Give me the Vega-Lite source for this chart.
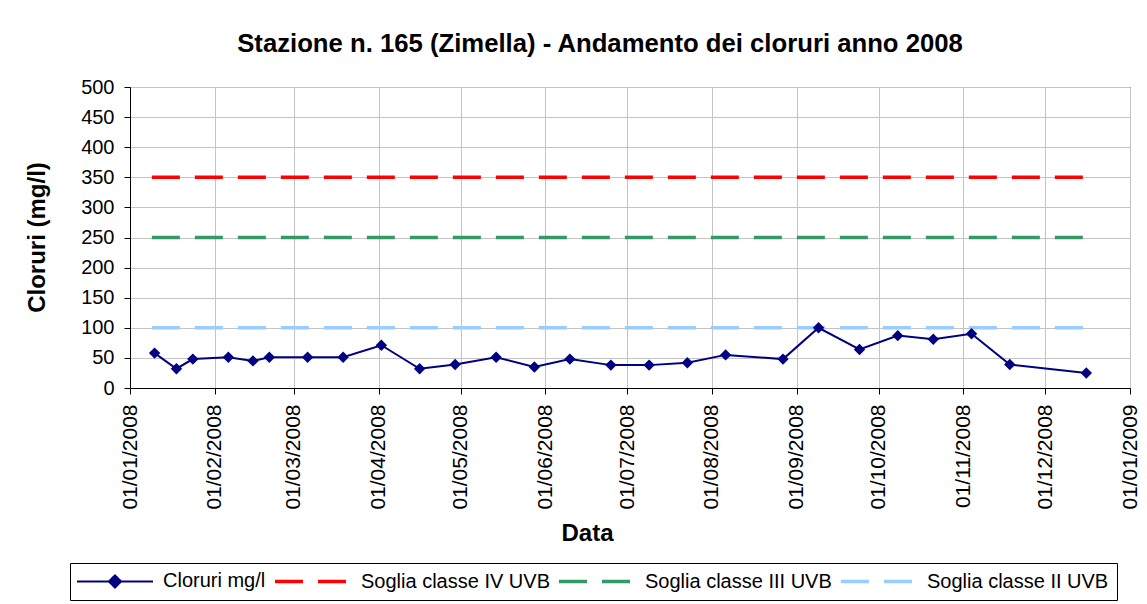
{
  "$schema": "https://vega.github.io/schema/vega-lite/v6.json",
  "width": 1000,
  "height": 301,
  "autosize": {"type": "none"},
  "padding": {"left": 130, "top": 87, "right": 17, "bottom": 216},
  "background": "white",
  "config": {
    "font": "Liberation Sans",
    "view": {"stroke": "black", "strokeWidth": 1}
  },
  "title": {
    "text": "Stazione n. 165 (Zimella) - Andamento dei cloruri anno 2008",
    "font": "Liberation Sans",
    "fontSize": 25.7,
    "fontWeight": "bold",
    "color": "black",
    "anchor": "middle",
    "dx": -30,
    "offset": -1,
    "baseline": "alphabetic"
  },
  "datasets": {
    "cloruri": [
      {"data": "2008-01-10", "valore": 58, "serie": "Cloruri mg/l"},
      {"data": "2008-01-18", "valore": 32, "serie": "Cloruri mg/l"},
      {"data": "2008-01-24", "valore": 48, "serie": "Cloruri mg/l"},
      {"data": "2008-02-06", "valore": 51, "serie": "Cloruri mg/l"},
      {"data": "2008-02-15", "valore": 45, "serie": "Cloruri mg/l"},
      {"data": "2008-02-21", "valore": 51, "serie": "Cloruri mg/l"},
      {"data": "2008-03-06", "valore": 51, "serie": "Cloruri mg/l"},
      {"data": "2008-03-19", "valore": 51, "serie": "Cloruri mg/l"},
      {"data": "2008-04-02", "valore": 71, "serie": "Cloruri mg/l"},
      {"data": "2008-04-16", "valore": 32, "serie": "Cloruri mg/l"},
      {"data": "2008-04-29", "valore": 39, "serie": "Cloruri mg/l"},
      {"data": "2008-05-14", "valore": 51, "serie": "Cloruri mg/l"},
      {"data": "2008-05-28", "valore": 35, "serie": "Cloruri mg/l"},
      {"data": "2008-06-10", "valore": 48, "serie": "Cloruri mg/l"},
      {"data": "2008-06-25", "valore": 38, "serie": "Cloruri mg/l"},
      {"data": "2008-07-09", "valore": 38, "serie": "Cloruri mg/l"},
      {"data": "2008-07-23", "valore": 42, "serie": "Cloruri mg/l"},
      {"data": "2008-08-06", "valore": 55, "serie": "Cloruri mg/l"},
      {"data": "2008-08-27", "valore": 48, "serie": "Cloruri mg/l"},
      {"data": "2008-09-09", "valore": 100, "serie": "Cloruri mg/l"},
      {"data": "2008-09-24", "valore": 64, "serie": "Cloruri mg/l"},
      {"data": "2008-10-08", "valore": 87, "serie": "Cloruri mg/l"},
      {"data": "2008-10-21", "valore": 81, "serie": "Cloruri mg/l"},
      {"data": "2008-11-04", "valore": 90, "serie": "Cloruri mg/l"},
      {"data": "2008-11-18", "valore": 39, "serie": "Cloruri mg/l"},
      {"data": "2008-12-16", "valore": 25, "serie": "Cloruri mg/l"}
    ],
    "soglie": [
      {"data": "2008-01-09", "valore": 350, "serie": "Soglia classe IV UVB"},
      {"data": "2008-12-16", "valore": 350, "serie": "Soglia classe IV UVB"},
      {"data": "2008-01-09", "valore": 250, "serie": "Soglia classe III UVB"},
      {"data": "2008-12-16", "valore": 250, "serie": "Soglia classe III UVB"},
      {"data": "2008-01-09", "valore": 100, "serie": "Soglia classe II UVB"},
      {"data": "2008-12-16", "valore": 100, "serie": "Soglia classe II UVB"}
    ]
  },
  "encoding": {
    "x": {
      "field": "data",
      "type": "temporal",
      "scale": {
        "type": "utc",
        "domain": [
          {"year": 2008, "month": 1, "date": 1, "utc": true},
          {"year": 2009, "month": 1, "date": 1, "utc": true}
        ]
      },
      "axis": {
        "title": "Data",
        "format": "%d/%m/%Y",
        "tickCount": {"interval": "month", "step": 1},
        "labelAngle": -90,
        "labelFontSize": 21,
        "labelColor": "black",
        "labelPadding": 10,
        "labelOverlap": false,
        "labelFlush": false,
        "tickSize": 6,
        "tickColor": "black",
        "domainColor": "black",
        "grid": true,
        "gridColor": "#c4c4c4",
        "titleFontSize": 24,
        "titleFontWeight": "bold",
        "titleColor": "black",
        "titleX": 457,
        "titleY": 145,
        "titleBaseline": "middle",
        "titleAlign": "center"
      }
    },
    "y": {
      "field": "valore",
      "type": "quantitative",
      "scale": {"domain": [0, 500], "nice": false},
      "axis": {
        "title": "Cloruri (mg/l)",
        "values": [0, 50, 100, 150, 200, 250, 300, 350, 400, 450, 500],
        "labelFontSize": 20,
        "labelColor": "black",
        "labelPadding": 10,
        "tickSize": 6,
        "tickColor": "black",
        "domainColor": "black",
        "grid": true,
        "gridColor": "#c4c4c4",
        "titleFontSize": 24,
        "titleFontWeight": "bold",
        "titleColor": "black",
        "titleX": -93,
        "titleY": 150,
        "titleBaseline": "middle",
        "titleAlign": "center"
      }
    }
  },
  "layer": [
    {
      "data": {"name": "soglie"},
      "mark": {"type": "line", "strokeDash": [28, 15], "strokeWidth": 3.5},
      "encoding": {
        "color": {
          "field": "serie",
          "type": "nominal",
          "scale": {
            "domain": ["Cloruri mg/l", "Soglia classe IV UVB", "Soglia classe III UVB", "Soglia classe II UVB"],
            "range": ["#000080", "#FF0000", "#339966", "#99CCFF"]
          },
          "legend": {
            "title": null,
            "orient": "none",
            "legendX": -60,
            "legendY": 476,
            "direction": "horizontal",
            "strokeColor": "black",
            "fillColor": "white",
            "padding": 8,
            "labelFontSize": 20,
            "labelColor": "black",
            "labelFont": "Liberation Sans",
            "labelLimit": 400,
            "symbolType": "stroke",
            "symbolSize": 5776,
            "symbolStrokeWidth": 3.5,
            "columnPadding": 1,
            "labelOffset": 65,
            "encode": {
              "symbols": {
                "update": {
                  "shape": {"signal": "datum.value === 'Cloruri mg/l' ? 'M-0.29,0L1.71,0M0.71,-0.16L0.87,0L0.71,0.16L0.55,0Z' : 'M-0.29,0L1.71,0'"},
                  "strokeDash": {"signal": "datum.value === 'Cloruri mg/l' ? [1,0] : [28,15]"},
                  "strokeWidth": {"signal": "datum.value === 'Cloruri mg/l' ? 2 : 3.5"},
                  "fill": {"signal": "datum.value === 'Cloruri mg/l' ? '#000080' : 'transparent'"}
                }
              }
            }
          }
        }
      }
    },
    {
      "data": {"name": "cloruri"},
      "mark": {"type": "line", "strokeWidth": 2},
      "encoding": {
        "color": {"field": "serie", "type": "nominal"}
      }
    },
    {
      "data": {"name": "cloruri"},
      "mark": {"type": "point", "shape": "diamond", "filled": true, "size": 130, "color": "#000080", "opacity": 1}
    }
  ]
}
